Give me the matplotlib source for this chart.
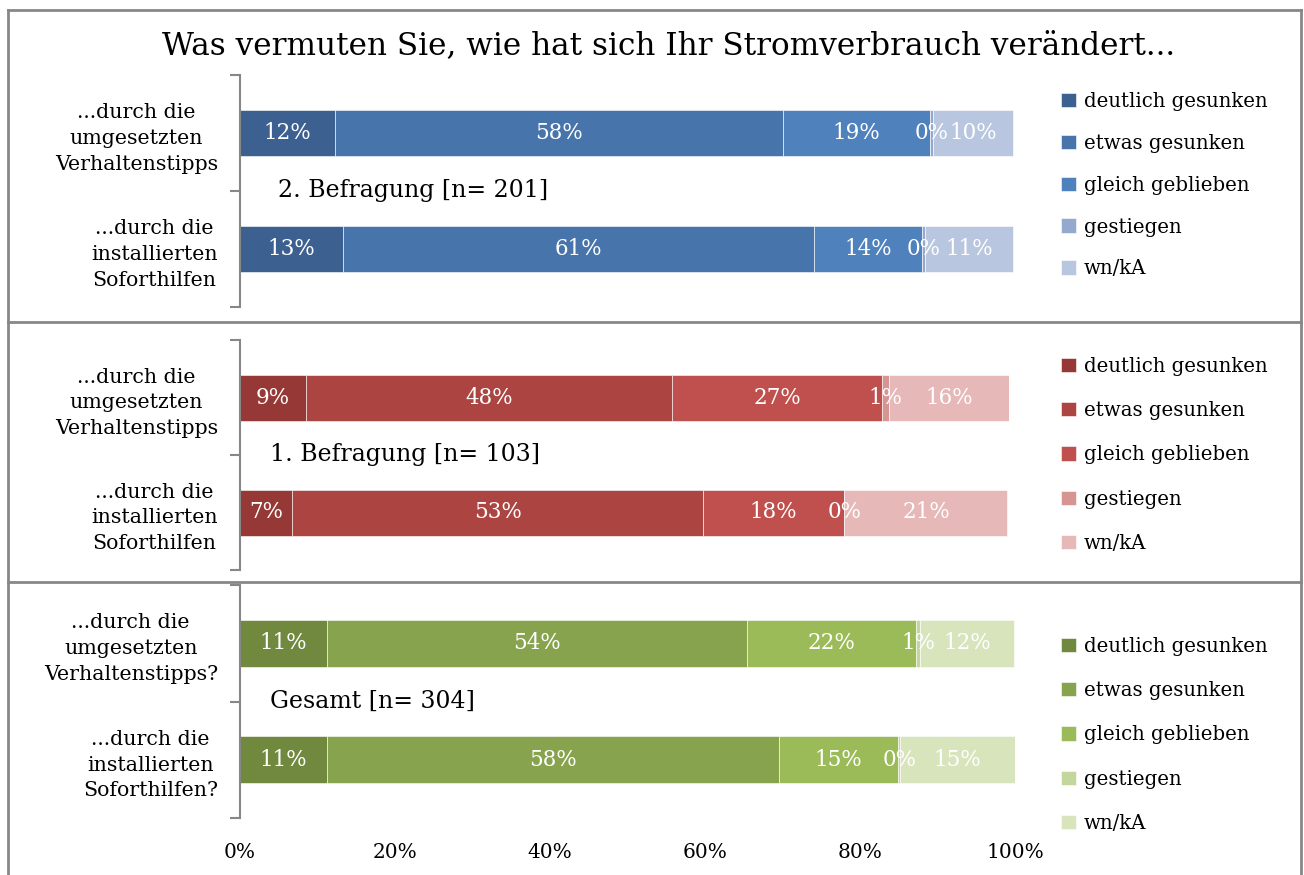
import matplotlib.pyplot as plt
from matplotlib.lines import Line2D

plt.rcParams['font.family'] = ['DejaVu Serif']

categories = ['deutlich gesunken', 'etwas gesunken', 'gleich geblieben', 'gestiegen', 'wn/kA']

# panel 1: 2. Befragung
b2_labels = ['...durch die\numgesetzten\nVerhaltenstipps', '...durch die\ninstallierten\nSoforthilfen']
b2_values = [[12.2, 57.9, 18.9, 0.4, 10.4],
             [13.3, 60.8, 13.9, 0.4, 11.4]]
# panel 2: 1. Befragung
b1_labels = ['...durch die\numgesetzten\nVerhaltenstipps', '...durch die\ninstallierten\nSoforthilfen']
b1_values = [[8.6, 47.6, 27.3, 0.9, 15.6],
             [6.8, 53.4, 18.4, 0.0, 21.2]]
# panel 3: Gesamt
ges_labels = ['...durch die\numgesetzten\nVerhaltenstipps?', '...durch die\ninstallierten\nSoforthilfen?']
ges_values = [[11.2, 54.2, 21.8, 0.6, 12.1],
              [11.2, 58.3, 15.4, 0.3, 14.8]]

blues = ['#3c6191', '#4674ab', '#4f81bd', '#95a9cf', '#b9c6e0']
reds = ['#953836', '#ac4442', '#c0504d', '#d59593', '#e6b9b8']
greens = ['#71893f', '#87a34e', '#9bbb59', '#c3d69b', '#d7e4bc']

W, H = 1304, 875
fig = plt.figure(figsize=(W / 100, H / 100), dpi=100)

fig.text(0.513, 1 - 46 / H, 'Was vermuten Sie, wie hat sich Ihr Stromverbrauch verändert...',
         ha='center', va='center', fontsize=22.4)

panels = [
    # (values, ylabels, colors, subtitle, x0, x1, y0, y1, text x, legend top, spacing)
    (b2_values, b2_labels, blues, '2. Befragung [n= 201]', 240, 1015, 75, 307, 4.9, 84, 1.16),
    (b1_values, b1_labels, reds, '1. Befragung [n= 103]', 240, 1009, 340, 570, 3.9, 349, 1.28),
    (ges_values, ges_labels, greens, 'Gesamt [n= 304]', 240, 1015, 585, 818, 3.9, 629, 1.28),
]

gray = '#878787'
for k, (vals, ylabels, cols, sub, x0, x1, y0, y1, tx, ltop, lsp) in enumerate(panels):
    ax = fig.add_axes([x0 / W, 1 - y1 / H, (x1 - x0) / W, (y1 - y0) / H])
    handles = []
    for i in range(2):
        left = 0
        for j, v in enumerate(vals[i]):
            b = ax.barh(i, v, left=left, height=0.4, color=cols[j],
                        edgecolor='white', linewidth=0.4)
            if i == 0:
                handles.append(b)
            ax.text(left + v / 2, i, f'{v:.0f}%', ha='center', va='center',
                    color='white', fontsize=15.5)
            left += v
    ax.set_xlim(0, 100)
    ax.set_ylim(1.5, -0.5)
    for s in ['top', 'right', 'bottom']:
        ax.spines[s].set_visible(False)
    ax.spines['left'].set_color(gray)
    ax.spines['left'].set_linewidth(1.5)
    ax.set_yticks([-0.5, 0.5, 1.5])
    ax.set_yticklabels([])
    ax.tick_params(axis='y', which='major', length=7, width=1.5, color=gray)
    ax.set_yticks([0, 1], minor=True)
    ax.set_yticklabels(ylabels, minor=True, fontsize=14.8, multialignment='center',
                       linespacing=1.45)
    ax.tick_params(axis='y', which='minor', length=0, pad=16)
    if k == 2:
        ax.set_xticks([0, 20, 40, 60, 80, 100])
        ax.set_xticklabels([f'{t}%' for t in [0, 20, 40, 60, 80, 100]], fontsize=14.5)
        ax.tick_params(axis='x', length=0, pad=18)
    else:
        ax.set_xticks([])
    ax.text(tx, 0.5, sub, ha='left', va='center', fontsize=17)
    ax.legend(handles, categories, loc='upper left', frameon=False,
              bbox_to_anchor=(1053 / W, 1 - ltop / H), bbox_transform=fig.transFigure,
              fontsize=14.2, handlelength=0.75, handleheight=0.75, handletextpad=0.4,
              labelspacing=lsp, borderaxespad=0)

# frame lines
def fline(xs, ys):
    fig.add_artist(Line2D([x / W for x in xs], [1 - y / H for y in ys],
                          color=gray, lw=2, transform=fig.transFigure))

fline([8, 8], [10, 875])
fline([1301, 1301], [10, 875])
fline([8, 1301], [10, 10])
fline([8, 1301], [322, 322])
fline([8, 1301], [582, 582])

fig.savefig('out.png', dpi=100, facecolor='white')
